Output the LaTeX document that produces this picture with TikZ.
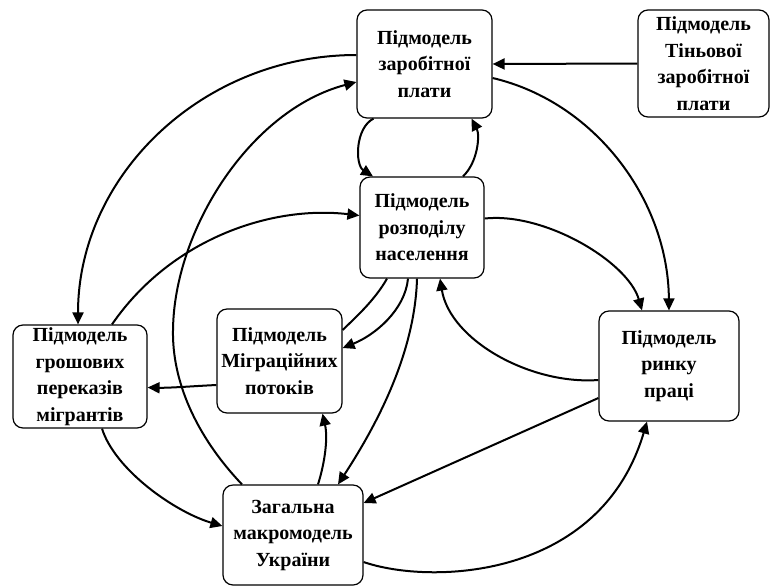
\documentclass[tikz,border=0pt]{standalone}
\usepackage{fontspec}
\setmainfont{Liberation Serif}
\usetikzlibrary{arrows.meta,calc}
\begin{document}
\begin{tikzpicture}[x=1pt,y=-1pt,
  box/.style={draw,line width=1.2pt,rounded corners=10pt,align=center,inner sep=0pt,
    font=\fontsize{20}{26.5}\selectfont\bfseries},
  conn/.style={line width=2pt},
  arr/.style={conn,-{Triangle[length=12pt,width=11pt]}}]
\useasboundingbox (0,0) rectangle (770,587);
\node[box,minimum width=135pt,minimum height=108pt] (W) at (424.5,64) {Підмодель\\заробітної\\плати};
\node[box,minimum width=131pt,minimum height=107pt] (S) at (703.5,63.5) {Підмодель\\Тіньової\\заробітної\\плати};
\node[box,minimum width=124pt,minimum height=101pt] (P) at (422,227.5) {Підмодель\\розподілу\\населення};
\node[box,minimum width=134pt,minimum height=103pt] (R) at (80,376.5) {Підмодель\\грошових\\переказів\\мігрантів};
\node[box,minimum width=125pt,minimum height=104pt] (M) at (279.5,361) {Підмодель\\Міграційних\\потоків};
\node[box,minimum width=140pt,minimum height=100pt] (U) at (293,535) {Загальна\\макромодель\\України};
\node[box,minimum width=140pt,minimum height=110pt] (L) at (669,366) {Підмодель\\ринку\\праці};
% connectors
\draw[arr] (S.west) -- (W.east);
\draw[arr] ($(W.east)+(0,14)$) .. controls (595,102) and (668,200) .. (L.north);
\draw[arr] ($(P.east)+(0,-9)$) .. controls (545,212) and (628,262) .. ($(L.north)+(-27,0)$);
\draw[arr] ($(W.south)+(-51,0)$) .. controls (355,128) and (355,165) .. ($(P.north)+(-49,0)$);
\draw[arr] ($(P.north)+(41,0)$) .. controls (478,162) and (480,135) .. ($(W.south)+(47,0)$);
\draw[arr] ($(W.west)+(0,-9)$) .. controls (203,55) and (78,175) .. ($(R.north)+(-2,0)$);
\draw[arr] ($(U.north)+(-51,0)$) .. controls (195,435) and (172,380) .. (173,330)
  .. controls (174,230) and (250,110) .. ($(W.west)+(0,18)$);
\draw[arr] ($(R.north)+(32,0)$) .. controls (170,240) and (270,205) .. ($(P.west)+(0,-12)$);
\draw[arr] ($(M.west)+(0,24)$) .. controls (195,386) and (170,388) .. ($(R.east)+(0,11)$);
\draw[conn] ($(P.south)+(-35,0)$) .. controls (375,300) and (355,318) .. ($(M.east)+(0,-31)$);
\draw[arr] ($(P.south)+(-14,0)$) .. controls (405,310) and (375,335) .. ($(M.east)+(0,-13)$);
\draw[arr] ($(P.south)+(-5,0)$) .. controls (415,350) and (380,420) .. ($(U.north)+(45,0)$);
\draw[arr] ($(L.west)+(0,14)$) .. controls (530,385) and (450,340) .. ($(P.south)+(18,0)$);
\draw[arr] ($(L.west)+(0,32)$) -- ($(U.east)+(0,-32)$);
\draw[arr] ($(U.east)+(0,27)$) .. controls (430,585) and (600,580) .. ($(L.south)+(-22,0)$);
\draw[arr] ($(R.south)+(22,0)$) .. controls (115,470) and (175,512) .. ($(U.west)+(0,-9)$);
\draw[arr] ($(U.north)+(25,0)$) .. controls (325,462) and (328,438) .. ($(M.south)+(43,0)$);
\end{tikzpicture}
\end{document}
